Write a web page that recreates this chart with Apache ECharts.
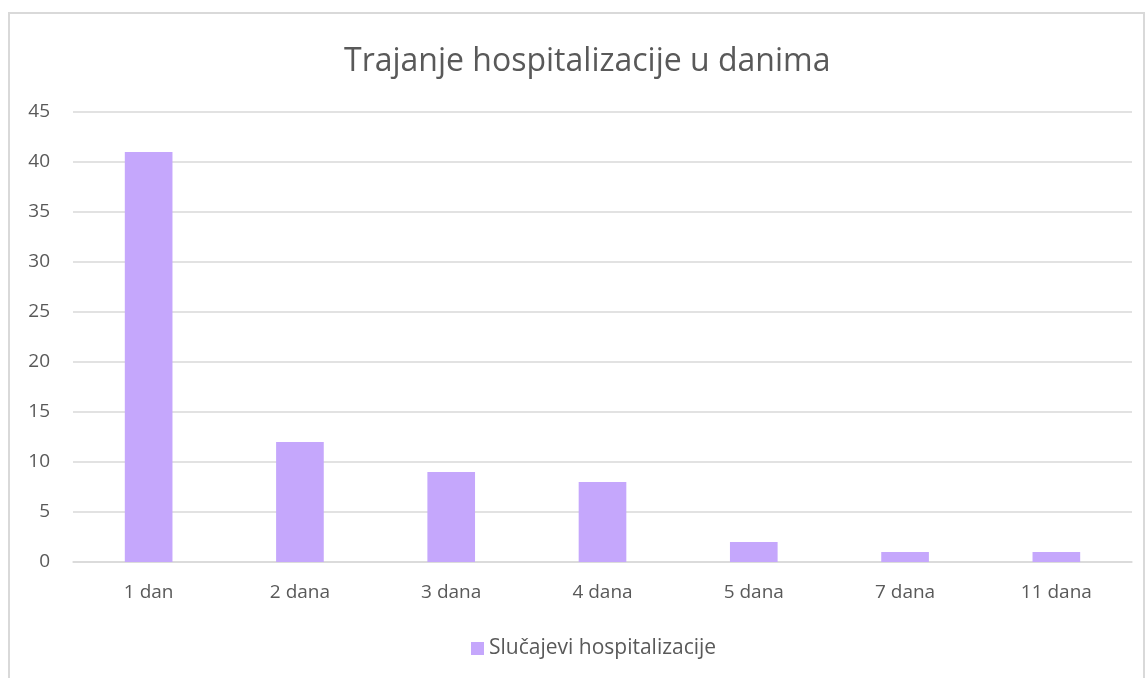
<!DOCTYPE html>
<html><head><meta charset="utf-8">
<script src="https://cdn.jsdelivr.net/npm/echarts@6/dist/echarts.min.js"></script>
<style>html,body{margin:0;padding:0;background:#fff;}#c{width:1146px;height:678px;}</style>
</head><body><div id="c"></div>
<script>
const categories = ['1 dan','2 dana','3 dana','4 dana','5 dana','7 dana','11 dana'];
const values = [41, 12, 9, 8, 2, 1, 1];
const seriesName = 'Slučajevi hospitalizacije';
const titleText = 'Trajanje hospitalizacije u danima';
const font = '"Open Sans", "Noto Sans", sans-serif';
const chart = echarts.init(document.getElementById('c'));
chart.setOption({
  animation: false,
  graphic: [{type:'rect', shape:{x:9, y:13, width:1135, height:700}, style:{fill:'none', stroke:'#d9d9d9', lineWidth:2}, silent:true}],
  title: {text: titleText, left: 339, top: 41, textStyle:{fontFamily: font, fontSize: 32, fontWeight: 'normal', color:'#595959'}},
  grid: {left: 73, right: 14, top: 112, bottom: 116},
  legend: {bottom: 14, left: 466, itemWidth: 13, itemHeight: 13, itemGap: 7, icon: 'rect',
    textStyle:{fontFamily: font, fontSize: 21, color:'#595959'}},
  xAxis: {type:'category', data: categories,
    axisLine:{lineStyle:{color:'#d9d9d9', width:1.5}}, axisTick:{show:false},
    axisLabel:{fontFamily: font, fontSize: 19, color:'#595959', margin: 21}},
  yAxis: {type:'value', min:0, max:45, interval:5,
    axisLine:{show:false}, axisTick:{show:false},
    splitLine:{lineStyle:{color:'#d9d9d9', width:1.5}},
    axisLabel:{fontFamily: font, fontSize: 19, color:'#595959', margin: 23}},
  series: [{type:'bar', name: seriesName, data: values, barWidth: '31.5%',
    itemStyle:{color:'#c5a7fc'}}]
});
</script></body></html>
